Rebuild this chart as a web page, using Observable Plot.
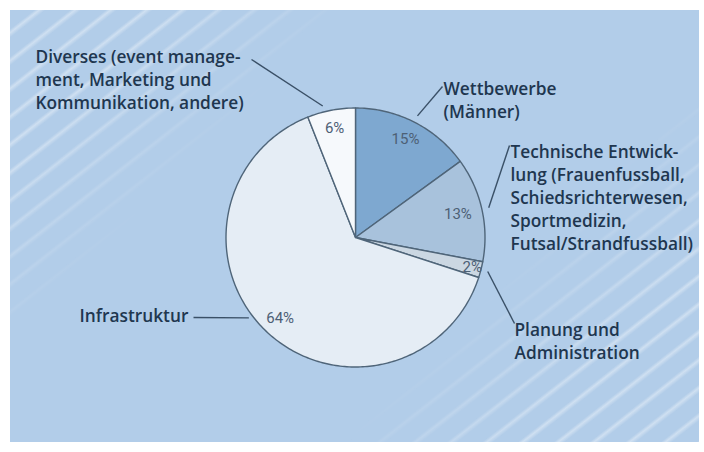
<!DOCTYPE html>
<html><head><meta charset="utf-8">
<script src="https://cdn.jsdelivr.net/npm/d3@7"></script>
<script src="https://cdn.jsdelivr.net/npm/@observablehq/plot@0.6"></script>
<style>
body{margin:0;background:#fff;}
#wrap{position:relative;width:704px;height:452px;overflow:hidden;background:#fff;}
#bg{position:absolute;left:10px;top:10px;width:689px;height:432px;background:#b2cde9;overflow:hidden;}
#streaks{position:absolute;left:0;top:0;width:100%;height:100%;
 background:repeating-linear-gradient(142deg, rgba(255,255,255,0) 0px, rgba(255,255,255,0) 15px, rgba(255,255,255,0.38) 18px, rgba(255,255,255,0) 22px);
 -webkit-mask-image:linear-gradient(135deg, #000 0%, #000 14%, rgba(0,0,0,0) 30%, rgba(0,0,0,0) 68%, #000 84%);
 mask-image:linear-gradient(135deg, #000 0%, #000 14%, rgba(0,0,0,0) 30%, rgba(0,0,0,0) 68%, #000 84%);}
#chart{position:absolute;left:0;top:0;}
</style></head>
<body>
<div id="wrap"><div id="bg"><div id="streaks"></div></div><div id="chart"></div></div>
<script>
// ---- data ----
const categories = ["Wettbewerbe (Männer)", "Technische Entwicklung", "Planung und Administration", "Infrastruktur", "Diverses"];
const shares = [15, 13, 2, 64, 6];
const pctLabels = ["15%", "13%", "2%", "64%", "6%"];
const labelTexts = [
  "Wettbewerbe\n(Männer)",
  "Technische Entwick-\nlung (Frauenfussball,\nSchiedsrichterwesen,\nSportmedizin,\nFutsal/Strandfussball)",
  "Planung und\nAdministration",
  "Infrastruktur",
  "Diverses (event manage-\nment, Marketing und\nKommunikation, andere)"
];
const sliceColors = ["#7ea8d0", "#a8c2dc", "#cbd7e2", "#e5edf5", "#f6f9fc"];

// ---- layout (annotation placement) ----
const W = 704, H = 452, cx = 355, cy = 237, R = 129.5;
const pctRadius = [0.85, 0.81, 0.93, 0.85, 0.86];
const labelLayout = [
  {tx: 443, ty: 78, ox: 442, oy: 86, angle: null, gap: 7},
  {tx: 510, ty: 141, ox: 509, oy: 145, angle: null, gap: 7},
  {tx: 514, ty: 319, ox: 514, oy: 323, angle: null, gap: 7},
  {tx: 79, ty: 305, ox: 193, oy: 317, angle: 233, gap: 4},
  {tx: 35, ty: 46, ox: 251, oy: 59, angle: 346, gap: 6}
];

const pie = d3.pie().sort(null).startAngle(0).endAngle(2 * Math.PI)(shares);
const pt = (a, r) => [cx + r * Math.sin(a), cy - r * Math.cos(a)];

const slicePts = [];
pie.forEach((p, i) => {
  const steps = Math.max(2, Math.ceil((p.endAngle - p.startAngle) / (Math.PI / 180)));
  slicePts.push({k: i, x: cx, y: cy, c: sliceColors[i]});
  for (let s = 0; s <= steps; s++) {
    const a = p.startAngle + (p.endAngle - p.startAngle) * s / steps;
    const [x, y] = pt(a, R);
    slicePts.push({k: i, x, y, c: sliceColors[i]});
  }
  slicePts.push({k: i, x: cx, y: cy, c: sliceColors[i]});
});

const pctData = pie.map((p, i) => {
  const mid = (p.startAngle + p.endAngle) / 2;
  const [x, y] = pt(mid, R * pctRadius[i]);
  return {x, y, t: pctLabels[i]};
});

const leaders = pie.map((p, i) => {
  const L = labelLayout[i];
  const a = L.angle == null ? (p.startAngle + p.endAngle) / 2 : L.angle * Math.PI / 180;
  const [x1, y1] = pt(a, R + L.gap);
  return {x1, y1, x2: L.ox, y2: L.oy};
});

const labels = labelTexts.map((t, i) => ({x: labelLayout[i].tx, y: labelLayout[i].ty, t}));

const chart = Plot.plot({
  width: W, height: H,
  margin: 0,
  style: {background: "transparent", overflow: "visible"},
  x: {domain: [0, W], range: [0, W], axis: null},
  y: {domain: [0, H], range: [0, H], axis: null},
  color: {type: "identity"},
  marks: [
    Plot.line(slicePts, {x: "x", y: "y", z: "k", fill: "c", stroke: "#4f6579", strokeWidth: 1.4, strokeLinejoin: "round", curve: "linear"}),
    Plot.text(pctData, {x: "x", y: "y", text: "t", fontFamily: "'Liberation Sans Narrow', 'Roboto', sans-serif", fontSize: 15, fill: "#4d6075", textAnchor: "middle"}),
    Plot.link(leaders, {x1: "x1", y1: "y1", x2: "x2", y2: "y2", stroke: "#3a5067", strokeWidth: 1.4}),
    Plot.text(labels, {x: "x", y: "y", text: "t", textAnchor: "start", lineAnchor: "top", lineHeight: 1.33, fontFamily: "'Open Sans', sans-serif", fontWeight: 600, fontSize: 17.3, fill: "#20364f"})
  ]
});
document.getElementById("chart").appendChild(chart);
</script>
</body></html>
